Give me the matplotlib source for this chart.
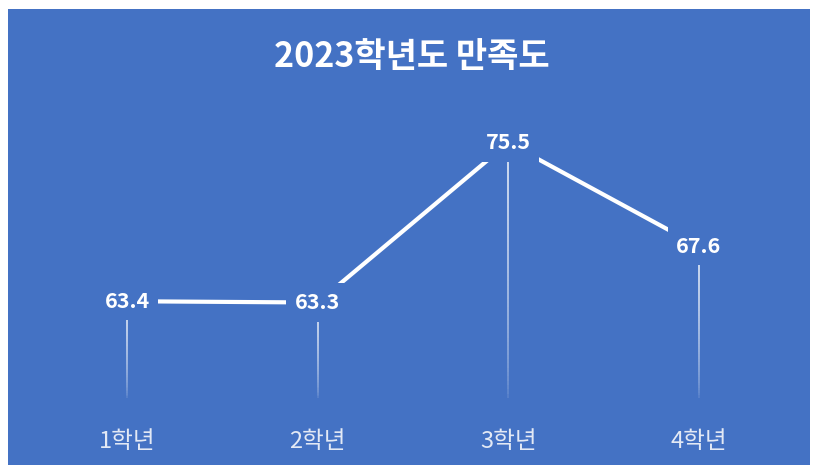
import numpy as np
import matplotlib.pyplot as plt
from matplotlib.patches import Rectangle
from matplotlib.collections import LineCollection

plt.rcParams['font.family'] = ['Noto Sans CJK KR', 'DejaVu Sans']

# data
grades = ['1학년', '2학년', '3학년', '4학년']
scores = [63.4, 63.3, 75.5, 67.6]
title = '2023학년도 만족도'

bg = '#4472c4'
ymin, ymax = 56, 78

fig = plt.figure(figsize=(8.18, 4.65), dpi=100)
fig.patch.set_facecolor('white')
fig.patches.append(Rectangle((8 / 818, 0), 802 / 818, 456 / 465, transform=fig.transFigure,
                             facecolor=bg, edgecolor='none', zorder=-1))

ax = fig.add_axes([0.0388, 0.144, 0.932, 0.619])
ax.set_facecolor('none')
x = np.arange(len(grades))

# drop lines fading towards the bottom
segs, cols = [], []
for xi, yi in zip(x, scores):
    ys = np.linspace(yi, ymin, 60)
    for k in range(len(ys) - 1):
        segs.append([(xi, ys[k]), (xi, ys[k + 1])])
        a = 0.9 * (1 - k / (len(ys) - 1)) ** 0.5
        cols.append((1, 1, 1, a))
ax.add_collection(LineCollection(segs, colors=cols, linewidths=1.2, zorder=1))

ax.plot(x, scores, color='white', lw=3.0, solid_capstyle='butt', zorder=2)

for xi, yi in zip(x, scores):
    ax.text(xi, yi, f'{yi:.1f}', ha='center', va='center', color='white',
            fontsize=15.5, fontweight='bold', zorder=3,
            bbox=dict(boxstyle='square,pad=0.4', facecolor=bg, edgecolor='none'))

ax.set_xlim(-0.5, len(grades) - 0.5)
ax.set_ylim(ymin, ymax)
ax.set_xticks(x)
ax.set_xticklabels(grades, fontsize=17, color='#e3e9f5')
ax.tick_params(axis='x', length=0, pad=23)
ax.set_yticks([])
for s in ax.spines.values():
    s.set_visible(False)

fig.text(411.5 / 818, 1 - 57 / 465, title, ha='center', va='center', color='white',
         fontsize=24.5, fontweight='bold')

fig.savefig('out.png', dpi=100, facecolor='white')
